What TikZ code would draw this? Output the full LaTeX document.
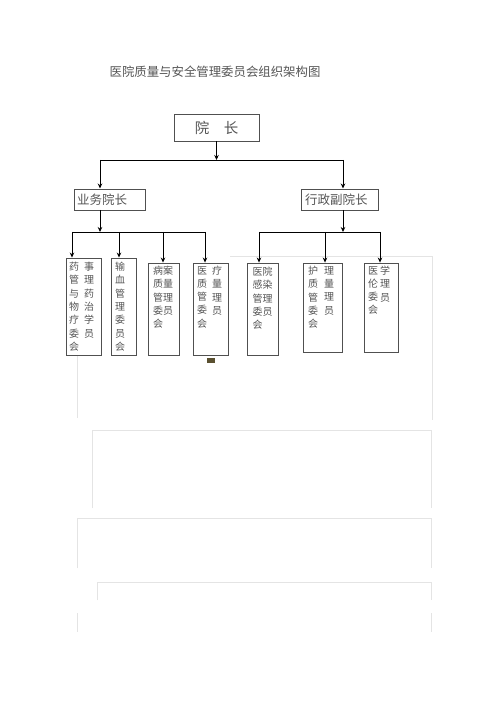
\documentclass[tikz,border=0pt]{standalone}
\usepackage{fontspec}
\setmainfont{Noto Sans CJK SC}
\usetikzlibrary{arrows.meta}
\definecolor{boxline}{HTML}{505050}
\definecolor{txt}{HTML}{555555}
\definecolor{faint}{HTML}{E4E4E4}
\definecolor{icon}{HTML}{5A5030}
\tikzset{
  orgbox/.style={draw=boxline, line width=0.9pt, inner sep=0pt},
  coltext/.style={inner sep=0pt, anchor=north, align=center, text=txt,
     font=\fontsize{10}{13.3}\selectfont},
  rowtext/.style={inner sep=0pt, anchor=north west, align=left, text=txt,
     font=\fontsize{10}{13.3}\selectfont},
  headtext/.style={inner sep=0pt, text=txt, font=\fontsize{12.5}{14}\selectfont},
  conn/.style={draw=black, line width=0.8pt},
  arr/.style={conn, -{Stealth[length=5pt,width=4.5pt]}},
  faintline/.style={draw=faint, line width=0.6pt}
}
\begin{document}
\begin{tikzpicture}[x=1pt,y=-1pt]
\useasboundingbox (0,0) rectangle (500,708);
\fill[white] (0,0) rectangle (500,708);

% faint page frames
\draw[faintline] (230,256) -- (432,256) -- (432,420);
\draw[faintline] (77,355) -- (77,418);
\draw[faintline] (92,508) -- (92,430) -- (431,430) -- (431,508);
\draw[faintline] (77,568) -- (77,518) -- (431,518) -- (431,568);
\draw[faintline] (97,600) -- (97,582) -- (431,582) -- (431,600);
\draw[faintline] (77,613) -- (77,632);
\draw[faintline] (431,613) -- (431,632);
\fill[icon] (207,358) rectangle (215,363);

% title
\node[inner sep=0pt, text=txt, font=\fontsize{12.4}{14}\selectfont] (title) at (215,72) {医院质量与安全管理委员会组织架构图};

% top level
\node[orgbox, minimum width=85pt, minimum height=27pt] (yz) at (216.5,127.5) {};
\node[headtext, font=\fontsize{14.5}{16}\selectfont] (yzt) at (216.5,127.5) {院\hspace{1em}长};

\node[orgbox, minimum width=71pt, minimum height=21pt] (yw) at (109.5,199.5) {};
\node[headtext, anchor=west] (ywt) at (77,199.5) {业务院长};

\node[orgbox, minimum width=77pt, minimum height=21pt] (xz) at (339.5,199.5) {};
\node[headtext, anchor=west] (xzt) at (305,199.5) {行政副院长};

% level 3 boxes
\node[orgbox, minimum width=35pt, minimum height=97pt] (b1) at (83.5,306.5) {};
\node[orgbox, minimum width=25pt, minimum height=97pt] (b2) at (123.5,306.5) {};
\node[orgbox, minimum width=31pt, minimum height=92pt] (b3) at (163.5,309) {};
\node[orgbox, minimum width=35pt, minimum height=92pt] (b4) at (210.5,309) {};
\node[orgbox, minimum width=31pt, minimum height=92pt] (b5) at (262.5,309) {};
\node[orgbox, minimum width=39pt, minimum height=89pt] (b6) at (322.5,307.5) {};
\node[orgbox, minimum width=34pt, minimum height=89pt] (b7) at (381,307.5) {};

% box texts
\node[coltext] (b1l) at (74,262) {药\\管\\与\\物\\疗\\委\\会};
\node[coltext] (b1r) at (89,262) {事\\理\\药\\治\\学\\员};
\node[coltext] (b2t) at (120,262) {输\\血\\管\\理\\委\\员\\会};
\node[rowtext] (b3t) at (153,266) {病案\\质量\\管理\\委员\\会};
\node[coltext] (b4l) at (202,266) {医\\质\\管\\委\\会};
\node[coltext] (b4r) at (217,266) {疗\\量\\理\\员};
\node[rowtext] (b5t) at (252.5,267) {医院\\感染\\管理\\委员\\会};
\node[coltext] (b6l) at (313,266) {护\\质\\管\\委\\会};
\node[coltext] (b6r) at (329,266) {理\\量\\理\\员};
\node[coltext] (b7l) at (373,266) {医\\伦\\委\\会};
\node[coltext] (b7r) at (385,266) {学\\理\\员};

% connectors level 1
\coordinate (j1) at (yz.south |- 0,160);
\coordinate (r1) at (343,160);
\coordinate (l1h) at (100,160);
\draw[arr] (yz.south) -- (j1);
\draw[conn] (l1h) -- (r1);
\draw[arr] (l1h) -- (100,188.5);
\draw[arr] (r1) -- (343,188.5);

% left group
\coordinate (ys) at (100,210);
\coordinate (lj) at (100,232);
\coordinate (la) at (72,232);
\coordinate (lb) at (119,232);
\coordinate (lc) at (163,232);
\coordinate (ld) at (205,232);
\draw[arr] (ys) -- (lj);
\draw[conn] (la) -- (ld);
\draw[arr] (la) -- (la |- b1.north);
\draw[arr] (lb) -- (lb |- b2.north);
\draw[arr] (lc) -- (lc |- b3.north);
\draw[arr] (ld) -- (ld |- b4.north);

% right group
\coordinate (xs) at (343,210);
\coordinate (rj) at (343,232);
\coordinate (ra) at (259,232);
\coordinate (rb) at (325,232);
\coordinate (rc) at (380,232);
\draw[arr] (xs) -- (rj);
\draw[conn] (ra) -- (rc);
\draw[arr] (ra) -- (ra |- b5.north);
\draw[arr] (rb) -- (rb |- b6.north);
\draw[arr] (rc) -- (rc |- b7.north);
\end{tikzpicture}
\end{document}
